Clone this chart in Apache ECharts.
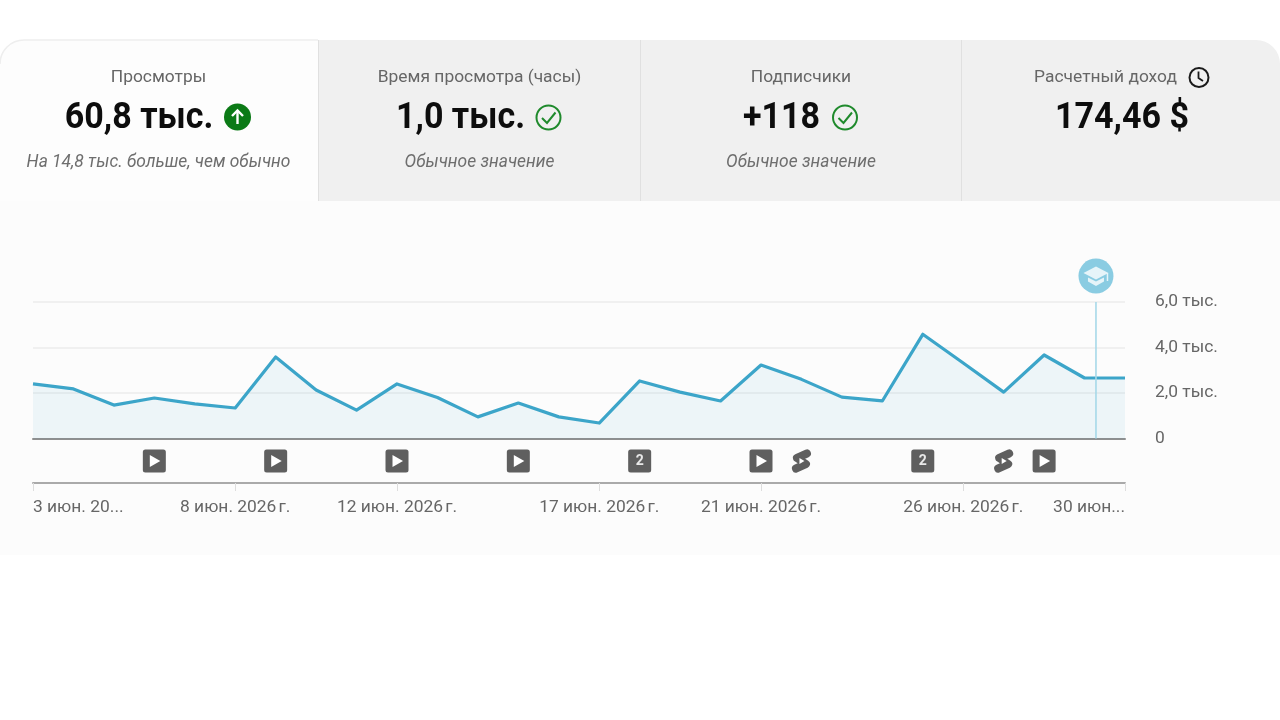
<!DOCTYPE html>
<html><head><meta charset="utf-8">
<style>html,body{margin:0;padding:0;background:#fff}#c{width:1280px;height:720px}</style>
<script src="https://cdn.jsdelivr.net/npm/echarts@6/dist/echarts.min.js"></script>
</head><body><div id="c"></div>
<script>
const days = ['3','4','5','6','7','8','9','10','11','12','13','14','15','16','17','18','19','20','21','22','23','24','25','26','27','28','29','30'];
const views = [2400,2180,1470,1780,1520,1340,3580,2130,1250,2400,1800,950,1560,950,680,2530,2040,1650,3230,2600,1820,1650,4580,3320,2040,3670,2660,2660];
const yTicks = {0:'0',2000:'2,0 тыс.',4000:'4,0 тыс.',6000:'6,0 тыс.'};
const tickLabels = {0:'3 июн. 20...',5:'8 июн. 2026\u202fг.',9:'12 июн. 2026\u202fг.',14:'17 июн. 2026\u202fг.',18:'21 июн. 2026\u202fг.',23:'26 июн. 2026\u202fг.',27:'30 июн...'};
const markerIndex = [3,6,9,12,15,18,19,22,24,25];
const markerKind = ['play','play','play','play','2','play','shorts','2','shorts','play'];
const noteAt = 26.27;
const cards = [
  {title:'Просмотры',value:'60,8 тыс.',sub:'На 14,8 тыс. больше, чем обычно'},
  {title:'Время просмотра (часы)',value:'1,0 тыс.',sub:'Обычное значение'},
  {title:'Подписчики',value:'+118',sub:'Обычное значение'},
  {title:'Расчетный доход',value:'174,46 $',sub:''}
];

const FONT='Roboto', GREY='#666666', LINE='#3ca5c9', LS=17.4;
const chart = echarts.init(document.getElementById('c'));

function txt(x,y,text,size,color,extra,sx){
  return {type:'text',x,y,z:5,silent:true,scaleX:sx||1,style:Object.assign({text,fontFamily:FONT,fontSize:size,fill:color,align:'center',verticalAlign:'middle'},extra||{})};
}
const bold={fontWeight:700}, ital={fontStyle:'italic'};
const VS=0.945, VY=118.5, TY=78, SY=162.5, VC='#0d0d0d', SC='#6e6e6e';
const gfx = [
  {type:'rect',z:-3,silent:true,shape:{x:0,y:201,width:1280,height:354},style:{fill:'#fcfcfc'}},
  {type:'rect',z:-2,silent:true,shape:{x:0,y:40,width:1280,height:161,r:[24,24,0,0]},style:{fill:'#f0f0f0'}},
  {type:'rect',z:-1,silent:true,shape:{x:0,y:40,width:318,height:161,r:[24,0,0,0]},style:{fill:'#fdfdfd'}},
  {type:'arc',z:0,silent:true,shape:{cx:24,cy:64,r:24,startAngle:Math.PI,endAngle:Math.PI*1.5},style:{fill:null,stroke:'#eeeeee',lineWidth:1.5}},
  {type:'line',z:0,silent:true,shape:{x1:24,y1:40,x2:318,y2:40},style:{stroke:'#eeeeee',lineWidth:1.5}},
  {type:'rect',z:0,silent:true,shape:{x:318,y:40,width:1,height:161},style:{fill:'#e0e0e0'}},
  {type:'rect',z:0,silent:true,shape:{x:640,y:40,width:1,height:161},style:{fill:'#e0e0e0'}},
  {type:'rect',z:0,silent:true,shape:{x:961,y:40,width:1,height:161},style:{fill:'#e0e0e0'}},
  // card texts
  txt(158.5,TY,cards[0].title,LS,GREY),
  txt(139,VY,cards[0].value,36,VC,bold,VS),
  txt(158.5,SY,cards[0].sub,LS,SC,ital),
  txt(479.5,TY,cards[1].title,LS,GREY),
  txt(460.5,VY,cards[1].value,36,VC,bold,VS),
  txt(479.5,SY,cards[1].sub,LS,SC,ital),
  txt(801,TY,cards[2].title,LS,GREY),
  txt(781.5,VY,cards[2].value,36,VC,bold,VS),
  txt(801,SY,cards[2].sub,LS,SC,ital),
  txt(1105.5,TY,cards[3].title,LS,GREY),
  txt(1122,VY,cards[3].value,36,VC,bold,VS),
  // up arrow
  {type:'circle',z:5,silent:true,shape:{cx:237.5,cy:117,r:13.5},style:{fill:'#0b7a16'}},
  {type:'polyline',z:6,silent:true,shape:{points:[[237.5,124],[237.5,111]]},style:{stroke:'#fff',lineWidth:2.4,fill:null}},
  {type:'polyline',z:6,silent:true,shape:{points:[[232,116],[237.5,110.5],[243,116]]},style:{stroke:'#fff',lineWidth:2.4,fill:null}},
  // checks
  {type:'circle',z:5,silent:true,shape:{cx:548.5,cy:117.5,r:12},style:{fill:null,stroke:'#1f8a2c',lineWidth:2}},
  {type:'polyline',z:5,silent:true,shape:{points:[[542,118],[547,123],[555.5,112.5]]},style:{fill:null,stroke:'#1f8a2c',lineWidth:2}},
  {type:'circle',z:5,silent:true,shape:{cx:845,cy:117.5,r:12},style:{fill:null,stroke:'#1f8a2c',lineWidth:2}},
  {type:'polyline',z:5,silent:true,shape:{points:[[838.5,118],[843.5,123],[852,112.5]]},style:{fill:null,stroke:'#1f8a2c',lineWidth:2}},
  // clock
  {type:'circle',z:5,silent:true,shape:{cx:1199,cy:77.5,r:9.5},style:{fill:null,stroke:'#1a1a1a',lineWidth:2}},
  {type:'polyline',z:5,silent:true,shape:{points:[[1198.5,71.5],[1198.5,78],[1203,81]]},style:{fill:null,stroke:'#1a1a1a',lineWidth:1.8}}
];

function drawMarker(params,api){
  const i = params.dataIndex;
  const p = api.coord([api.value(0),0.5]);
  const x=p[0], y=p[1], kind=markerKind[i], dark='#5f5f5f';
  const kids=[];
  if(kind==='shorts'){
    const s={stroke:dark,lineWidth:8,fill:null,lineCap:'round',lineJoin:'round'};
    kids.push({type:'polyline',shape:{points:[[x+5.5,y-7.5],[x-4.5,y-3],[x+4.5,y+3],[x-5.5,y+7.5]]},style:s});
    kids.push({type:'polygon',shape:{points:[[x-2,y-3],[x+3,y],[x-2,y+3]]},style:{fill:'#fff'}});
  } else {
    kids.push({type:'rect',shape:{x:x-11.5,y:y-11.5,width:23,height:23,r:2.5},style:{fill:dark}});
    if(kind==='play') kids.push({type:'polygon',shape:{points:[[x-4.5,y-6],[x+6,y],[x-4.5,y+6]]},style:{fill:'#fff'}});
    else kids.push({type:'text',style:{text:kind,x:x,y:y,align:'center',verticalAlign:'middle',fontFamily:FONT,fontSize:14,fontWeight:700,fill:'#e8e8e8'}});
  }
  return {type:'group',children:kids};
}
function drawNote(params,api){
  const top=api.coord([api.value(0),6000]), bot=api.coord([api.value(0),0]);
  const x=top[0]+0.5, cy=top[1]-26, w='#e6f4f9';
  return {type:'group',children:[
    {type:'line',shape:{x1:x,y1:top[1],x2:x,y2:bot[1]},style:{stroke:'#a6d8e8',lineWidth:1.6}},
    {type:'circle',shape:{cx:x,cy:cy,r:17.5},style:{fill:'#8accE2'}},
    {type:'polygon',shape:{points:[[x-12.5,cy-3],[x,cy-9.5],[x+12.5,cy-3],[x,cy+3.5]]},style:{fill:w}},
    {type:'polygon',shape:{points:[[x-8,cy+1.5],[x,cy+5.5],[x+8,cy+1.5],[x+8,cy+5.5],[x,cy+10],[x-8,cy+5.5]]},style:{fill:w}},
    {type:'line',shape:{x1:x+11.5,y1:cy-3,x2:x+11.5,y2:cy+5},style:{stroke:w,lineWidth:1.5}}
  ]};
}

chart.setOption({
  animation:false,
  backgroundColor:'#ffffff',
  textStyle:{fontFamily:FONT},
  graphic:{elements:gfx},
  grid:[
    {left:33,width:1092,top:302,height:136.5,containLabel:false},
    {left:33,width:1092,top:439,height:44,containLabel:false}
  ],
  xAxis:[
    {type:'category',gridIndex:0,data:days,boundaryGap:false,axisLabel:{show:false},axisTick:{show:false},
      axisLine:{show:true,lineStyle:{color:'#8f8f8f',width:2}},splitLine:{show:false}},
    {type:'category',gridIndex:1,data:days,boundaryGap:false,position:'bottom',
      axisLine:{show:true,lineStyle:{color:'#aaaaaa',width:2}},
      axisTick:{show:true,length:8,inside:false,lineStyle:{color:'#dddddd',width:1},interval:(i)=>tickLabels[i]!==undefined},
      axisLabel:{show:true,margin:16,fontSize:LS,fontFamily:FONT,color:GREY,alignMinLabel:'left',alignMaxLabel:'right',hideOverlap:false,showMinLabel:true,showMaxLabel:true,
        interval:(i)=>tickLabels[i]!==undefined,formatter:(v,i)=>tickLabels[i]||''}},
    {type:'value',gridIndex:0,min:0,max:27,show:false}
  ],
  yAxis:[
    {type:'value',gridIndex:0,min:0,max:6000,interval:2000,position:'right',axisLine:{show:false},axisTick:{show:false},
      splitLine:{show:true,lineStyle:{color:'#ececec',width:1.6}},
      axisLabel:{margin:30,fontSize:LS,fontFamily:FONT,color:GREY,padding:[4,0,0,0],formatter:(v)=>yTicks[v]}},
    {type:'value',gridIndex:1,min:0,max:1,show:false}
  ],
  series:[
    {type:'line',xAxisIndex:0,yAxisIndex:0,data:views,symbol:'none',smooth:false,z:3,
      lineStyle:{color:LINE,width:3.2,join:'round'},areaStyle:{color:'rgba(60,170,205,0.11)'}},
    {type:'custom',xAxisIndex:1,yAxisIndex:1,data:markerIndex.map(i=>[i]),encode:{x:0},renderItem:drawMarker,clip:false,z:4},
    {type:'custom',xAxisIndex:2,yAxisIndex:0,data:[[noteAt]],encode:{x:0},renderItem:drawNote,clip:false,z:4}
  ]
});
</script></body></html>
